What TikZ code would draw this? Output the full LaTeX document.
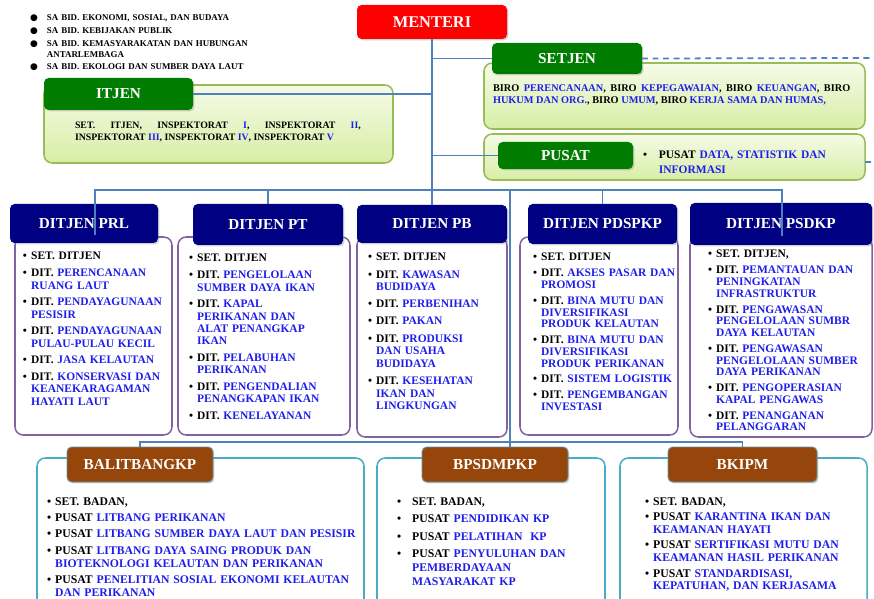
\documentclass[tikz,border=0pt]{standalone}
\usepackage{fontspec}
\setmainfont{Liberation Serif}
\newfontfamily\symfont{DejaVu Sans}
\usetikzlibrary{shadows}
\definecolor{nmblue}{RGB}{30,30,235}
\definecolor{linkblue}{RGB}{79,129,189}
\definecolor{hdred}{RGB}{255,0,0}
\definecolor{hdgreen}{RGB}{0,125,0}
\definecolor{hdnavy}{RGB}{0,0,130}
\definecolor{hdbrown}{RGB}{150,70,10}
\definecolor{gtop}{RGB}{245,251,232}
\definecolor{gbot}{RGB}{215,238,165}
\definecolor{rimgreen}{RGB}{155,187,89}
\definecolor{rimpurple}{RGB}{128,100,162}
\definecolor{rimteal}{RGB}{75,172,198}
\newcommand{\pxu}{0.03cm}
\newlength{\itmsep}
\makeatletter
\newcommand{\nl}{\@normalcr}
\makeatother
\newcommand{\nx}{\nl[\itmsep]}
\newcommand{\bl}{\leavevmode\llap{\makebox[\hangindent][l]{\textbullet}}}
\newcommand{\bbl}{\leavevmode\llap{\makebox[\hangindent][l]{\symfont\fontsize{7.6}{7.6}\selectfont ●}}}
\newcommand{\itm}[2]{\bl #1 \textcolor{nmblue}{#2}}
\begin{document}
\begin{tikzpicture}[x=\pxu, y=-\pxu,
    every node/.style={inner sep=0pt, outer sep=0pt},
    sz/.style 2 args={minimum width=#1*\pxu, minimum height=#2*\pxu},
    hd/.style={anchor=north west, rounded corners=4pt, text=white,
      font=\fontsize{13}{15}\selectfont\bfseries,
      drop shadow={opacity=0.35, shadow xshift=1.2pt, shadow yshift=-1.2pt}},
    redhd/.style={hd, fill=hdred},
    greenhd/.style={hd, fill=hdgreen},
    navyhd/.style={hd, fill=hdnavy},
    brownhd/.style={hd, fill=hdbrown, draw=rimteal!50!gray, line width=0.8pt},
    box/.style={anchor=north west, rounded corners=7pt, line width=1.3pt},
    greenbox/.style={box, draw=rimgreen, top color=gtop, bottom color=gbot},
    purplebox/.style={box, draw=rimpurple, fill=white},
    tealbox/.style={box, draw=rimteal, fill=white},
    lst/.style n args={4}{anchor=base west, align=left, text width=140pt,
      font=\fontsize{#1}{#2}\selectfont\bfseries,
      execute at begin node={\setlength{\itmsep}{#3}\hangindent=#4\hangafter=0\relax}},
    para/.style={anchor=base west, align=justify, font=\fontsize{8.8}{10.2}\selectfont\bfseries},
    conn/.style={draw=linkblue, line width=1.5pt}
  ]
  \useasboundingbox (0,0) rectangle (874,599);
  \clip (0,0) rectangle (874,599);

  \node[lst={7.6}{9.4}{1.3pt}{14.5pt}, text width=230pt] (legend) at (30,21)
    {\bbl SA BID. EKONOMI, SOSIAL, DAN BUDAYA\nx
     \bbl SA BID. KEBIJAKAN PUBLIK\nx
     \bbl SA BID. KEMASYARAKATAN DAN HUBUNGAN\nl ANTARLEMBAGA\nx
     \bbl SA BID. EKOLOGI DAN SUMBER DAYA LAUT};

  \node[redhd, sz={150}{34}, font=\fontsize{14}{16}\selectfont\bfseries] (menteri) at (357,5) {MENTERI};

  \node[greenbox, sz={349}{78}] (itjenbox) at (44,85) {};
  \node[greenhd, sz={149}{32}] (itjen) at (44,78) {ITJEN};
  \node[para, text width=244pt, font=\fontsize{8.4}{10.2}\selectfont\bfseries] (itjentext) at (75,129)
    {SET. ITJEN, INSPEKTORAT \textcolor{nmblue}{I}, INSPEKTORAT \textcolor{nmblue}{II},\linebreak
     \mbox{INSPEKTORAT \textcolor{nmblue}{III}, INSPEKTORAT \textcolor{nmblue}{IV}, INSPEKTORAT \textcolor{nmblue}{V}}};

  \node[greenbox, sz={381}{66}] (setjenbox) at (484,63) {};
  \node[greenhd, sz={150}{31}] (setjen) at (492,43) {SETJEN};
  \node[para, text width=305pt] (setjentext) at (493,92)
    {BIRO \textcolor{nmblue}{PERENCANAAN}, BIRO \textcolor{nmblue}{KEPEGAWAIAN}, BIRO \textcolor{nmblue}{KEUANGAN}, BIRO\linebreak
     \textcolor{nmblue}{HUKUM DAN ORG.}, BIRO \textcolor{nmblue}{UMUM}, BIRO \textcolor{nmblue}{KERJA SAMA DAN HUMAS,}};

  \node[greenbox, sz={381}{46}] (pusatbox) at (484,134) {};
  \node[greenhd, sz={135}{27}] (pusat) at (498,142) {PUSAT};
  \node[lst={9.8}{12.7}{0pt}{13.6pt}, text width=190pt] (pusattext) at (643,159)
    {\itm{PUSAT}{DATA, STATISTIK DAN\nl INFORMASI}};

  \node[purplebox, sz={157}{198}] (prlbox) at (15,237) {};
  \node[navyhd, sz={148}{39}] (prl) at (10,204) {DITJEN PRL};
  \node[lst={9.8}{10.5}{3.8pt}{7pt}] (prllist) at (23,260)
    {\bl SET. DITJEN\nx
     \itm{DIT.}{PERENCANAAN\nl RUANG LAUT}\nx
     \itm{DIT.}{PENDAYAGUNAAN\nl PESISIR}\nx
     \itm{DIT.}{PENDAYAGUNAAN\nl PULAU-PULAU KECIL}\nx
     \itm{DIT.}{JASA KELAUTAN}\nx
     \itm{DIT.}{KONSERVASI DAN\nl KEANEKARAGAMAN\nl HAYATI LAUT}};

  \node[purplebox, sz={172}{198}] (ptbox) at (178,237) {};
  \node[navyhd, sz={150}{41}] (pt) at (193,204) {DITJEN PT};
  \node[lst={9.8}{10.5}{3.8pt}{7pt}] (ptlist) at (189,262)
    {\bl SET. DITJEN\nx
     \itm{DIT.}{PENGELOLAAN\nl SUMBER DAYA IKAN}\nx
     \itm{DIT.}{KAPAL\nl PERIKANAN DAN\nl ALAT PENANGKAP\nl IKAN}\nx
     \itm{DIT.}{PELABUHAN\nl PERIKANAN}\nx
     \itm{DIT.}{PENGENDALIAN\nl PENANGKAPAN IKAN}\nx
     \itm{DIT.}{KENELAYANAN}};

  \node[purplebox, sz={150}{200}] (pbbox) at (357,237) {};
  \node[navyhd, sz={150}{38}] (pb) at (357,205) {DITJEN PB};
  \node[lst={9.8}{10.8}{3.8pt}{7pt}] (pblist) at (368,261)
    {\bl SET. DITJEN\nx
     \itm{DIT.}{KAWASAN\nl BUDIDAYA}\nx
     \itm{DIT.}{PERBENIHAN}\nx
     \itm{DIT.}{PAKAN}\nx
     \itm{DIT.}{PRODUKSI\nl DAN USAHA\nl BUDIDAYA}\nx
     \itm{DIT.}{KESEHATAN\nl IKAN DAN\nl LINGKUNGAN}};

  \node[purplebox, sz={158}{198}] (pdspkpbox) at (520,237) {};
  \node[navyhd, sz={149}{40}] (pdspkp) at (528,204) {DITJEN PDSPKP};
  \node[lst={9.8}{10}{3.5pt}{7pt}] (pdspkplist) at (533,261)
    {\bl SET. DITJEN\nx
     \itm{DIT.}{AKSES PASAR DAN\nl PROMOSI}\nx
     \itm{DIT.}{BINA MUTU DAN\nl DIVERSIFIKASI\nl PRODUK KELAUTAN}\nx
     \itm{DIT.}{BINA MUTU DAN\nl DIVERSIFIKASI\nl PRODUK PERIKANAN}\nx
     \itm{DIT.}{SISTEM LOGISTIK}\nx
     \itm{DIT.}{PENGEMBANGAN\nl INVESTASI}};

  \node[purplebox, sz={182}{200}] (psdkpbox) at (690,237) {};
  \node[navyhd, sz={182}{42}] (psdkp) at (690,203) {DITJEN PSDKP};
  \node[lst={9.8}{10}{3.5pt}{7pt}, text width=160pt] (psdkplist) at (708,258)
    {\bl SET. DITJEN,\nx
     \itm{DIT.}{PEMANTAUAN DAN\nl PENINGKATAN\nl INFRASTRUKTUR}\nx
     \itm{DIT.}{PENGAWASAN\nl PENGELOLAAN SUMBR\nl DAYA KELAUTAN}\nx
     \itm{DIT.}{PENGAWASAN\nl PENGELOLAAN SUMBER\nl DAYA PERIKANAN}\nx
     \itm{DIT.}{PENGOPERASIAN\nl KAPAL PENGAWAS}\nx
     \itm{DIT.}{PENANGANAN\nl PELANGGARAN}};

  \node[tealbox, sz={327}{150}] (balitbox) at (37,458) {};
  \node[brownhd, sz={146}{35}] (balit) at (67,447) {BALITBANGKP};
  \node[lst={10}{11}{3pt}{7pt}, text width=320pt] (balitlist) at (47,505)
    {\bl SET. BADAN,\nx
     \itm{PUSAT}{LITBANG PERIKANAN}\nx
     \itm{PUSAT}{LITBANG SUMBER DAYA LAUT DAN PESISIR}\nx
     \itm{PUSAT}{LITBANG DAYA SAING PRODUK DAN\nl BIOTEKNOLOGI KELAUTAN DAN PERIKANAN}\nx
     \itm{PUSAT}{PENELITIAN SOSIAL EKONOMI KELAUTAN\nl DAN PERIKANAN}};

  \node[tealbox, sz={228}{150}] (bpsdmbox) at (377,458) {};
  \node[brownhd, sz={146}{35}] (bpsdm) at (422,447) {BPSDMPKP};
  \node[lst={10}{12}{3pt}{13pt}, text width=200pt] (bpsdmlist) at (397,505)
    {\bl SET. BADAN,\nx
     \itm{PUSAT}{PENDIDIKAN KP}\nx
     \itm{PUSAT}{PELATIHAN\ \ KP}\nx
     \itm{PUSAT}{PENYULUHAN DAN\nl PEMBERDAYAAN\nl MASYARAKAT KP}};

  \node[tealbox, sz={247}{150}] (bkipmbox) at (620,458) {};
  \node[brownhd, sz={149}{35}] (bkipm) at (668,447) {BKIPM};
  \node[lst={10}{10.5}{3pt}{7pt}, text width=210pt] (bkipmlist) at (645,505)
    {\bl SET. BADAN,\nx
     \itm{PUSAT}{KARANTINA IKAN DAN\nl KEAMANAN HAYATI}\nx
     \itm{PUSAT}{SERTIFIKASI MUTU DAN\nl KEAMANAN HASIL PERIKANAN}\nx
     \itm{PUSAT}{STANDARDISASI,\nl KEPATUHAN, DAN KERJASAMA}};

  \coordinate (bus) at (432,190);
  \coordinate (prltap) at (95,235);
  \coordinate (psdkptap) at (782,236);
  \coordinate (split) at (510,442);
  \coordinate (edgeset) at (874,58);
  \coordinate (edgepus) at (874,162);
  \draw[conn] (menteri.south) -- (pb.north);
  \draw[conn] (itjen.east) -- (menteri.south |- itjen.east);
  \draw[conn] (menteri.south |- setjen.west) -- (setjen.west);
  \draw[conn] (menteri.south |- pusat.west) -- (pusat.west);
  \draw[conn, dash pattern=on 5pt off 4pt] (setjen.east) -- (edgeset);
  \draw[conn, dash pattern=on 5pt off 4pt] (pusatbox.east |- edgepus) -- (edgepus);
  \draw[conn] (prltap) |- (bus) -| (psdkptap);
  \draw[conn] (pt.north) -- (pt.north |- bus);
  \draw[conn] (pdspkp.north) -- (pdspkp.north |- bus);
  \draw[conn] (split |- bus) -- (split |- bpsdm.north);
  \draw[conn] (balit.north) |- (split) -| (bkipm.north);
\end{tikzpicture}
\end{document}
